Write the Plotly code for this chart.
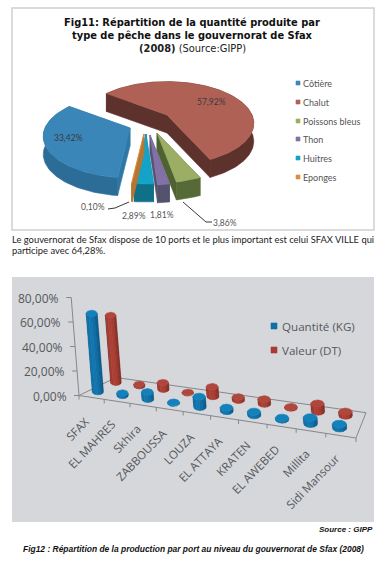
import math
import plotly.graph_objects as go

# ---------- data ----------
pie_labels = ["Côtière", "Chalut", "Poissons bleus", "Thon", "Huitres", "Eponges"]
pie_values = [33.42, 57.92, 3.86, 1.81, 2.89, 0.10]
pie_texts = ["33,42%", "57,92%", "3,86%", "1,81%", "2,89%", "0,10%"]
pie_top = ["#3a86b8", "#b06156", "#9bae64", "#8270a6", "#14a3c8", "#d68f47"]
pie_rim = ["#2c6d98", "#5e322c", "#566a38", "#55526e", "#0f7088", "#b8752f"]
pie_cut = ["#2f77a6", "#5e322c", "#4f6233", "#55526e", "#0f7088", "#b8752f"]

ports = ["SFAX", "EL MAHRES", "Skhira", "ZABBOUSSA", "LOUZA", "EL ATTAYA",
         "KRATEN", "EL AWEBED", "Millita", "Sidi Mansour"]
quantite = [64.0, 2.0, 6.0, 0.6, 8.5, 2.8, 2.8, 1.2, 5.0, 3.2]
valeur = [58.0, 1.6, 6.0, 0.6, 8.5, 2.8, 4.2, 0.8, 7.0, 3.4]
y_ticks = [0, 20, 40, 60, 80]
y_tick_text = ["0,00%", "20,00%", "40,00%", "60,00%", "80,00%"]
series_names = ["Quantité (KG)", "Valeur (DT)"]

traces = []
annots = []


def poly(xs, ys, color, line=None):
    traces.append(go.Scatter(
        x=xs, y=ys, mode="lines", fill="toself", fillcolor=color,
        line=dict(color=line or color, width=0.6), hoverinfo="skip", showlegend=False))


def path(xs, ys, color="#333333", width=1):
    traces.append(go.Scatter(x=xs, y=ys, mode="lines", line=dict(color=color, width=width),
                             hoverinfo="skip", showlegend=False))


def text(x, y, s, size=9, color="#444444", font="Lato", anchor="center", yanchor="middle", angle=0):
    annots.append(dict(x=x, y=y, xref="x", yref="y", text=s, showarrow=False, xanchor=anchor,
                       yanchor=yanchor, textangle=angle,
                       font=dict(size=size, color=color, family=font),
                       borderpad=0, borderwidth=0))


# ---------- pie ----------
A, B, K, DEPTH = 85.0, 40.0, 0.2, 18.0
apex = {0: (130, 128), 1: (167, 115), 2: (157, 133), 3: (150, 135), 4: (146, 134), 5: (144, 134)}


def proj(t):
    X, Y = math.cos(t), math.sin(t)
    s = 1 / (1 + K * Y)
    return A * X * s, -B * Y * s


total = sum(pie_values)
start = math.radians(263.3)
order = [1, 0, 2, 3, 4, 5]
wedges = {}
ang = start
for i, v in enumerate(pie_values):
    span = v / total * 2 * math.pi
    wedges[i] = (ang, ang - span)
    ang -= span

for i in order:
    a0, a1 = wedges[i]
    cx, cy = apex[i]
    n = max(2, int(abs(a1 - a0) * 40))
    arc = [proj(a0 + (a1 - a0) * j / n) for j in range(n + 1)]
    arc = [(cx + x, cy + y) for x, y in arc]
    # cut faces
    for p in (arc[0], arc[-1]):
        poly([cx, p[0], p[0], cx, cx], [cy, p[1], p[1] + DEPTH, cy + DEPTH, cy], pie_cut[i])
    # rim
    xs = [p[0] for p in arc] + [p[0] for p in reversed(arc)] + [arc[0][0]]
    ys = [p[1] for p in arc] + [p[1] + DEPTH for p in reversed(arc)] + [arc[0][1]]
    poly(xs, ys, pie_rim[i])
    # top
    poly([cx] + [p[0] for p in arc] + [cx], [cy] + [p[1] for p in arc] + [cy], pie_top[i])

text(68, 138, pie_texts[0], 8.5, "#3a3a3a")
text(211, 102, pie_texts[1], 8.5, "#3a3a3a")
text(93, 207, pie_texts[5], 8.5, "#555555")
text(134, 216, pie_texts[4], 8.5, "#555555")
text(162, 215, pie_texts[3], 8.5, "#555555")
text(225, 223, pie_texts[2], 8.5, "#555555")
path([108, 115, 129], [209, 208, 202], "#222222", 0.9)
path([183, 206, 212], [202, 222, 222], "#222222", 0.9)

leg_y = [83, 102, 121, 139, 158, 177]
for i, name in enumerate(pie_labels):
    yy = leg_y[i]
    poly([296, 300, 300, 296, 296], [yy - 2, yy - 2, yy + 2, yy + 2, yy - 2], pie_top[i])
    text(303, yy, name, 9, "#555555", anchor="left")

T = "DejaVu Sans"
text(192, 22, "<b>Fig11: Répartition de la quantité produite par</b>", 9.9, "#111111", T)
text(192, 35, "<b>type de pêche dans le gouvernorat de Sfax</b>", 9.9, "#111111", T)
text(192, 48, "<b>(2008)</b> (Source:GIPP)", 9.9, "#222222", T)

B1 = "Lato"
text(12, 239.5, "Le gouvernorat de Sfax dispose de 10 ports et le plus important est celui SFAX VILLE qui",
     9.4, "#1c1c1c", B1, anchor="left")
text(12, 250, "participe avec 64,28%.", 9.4, "#1c1c1c", B1, anchor="left")

# ---------- bar chart on a skewed floor ----------
FL, FR = (79.0, 395.5), (356.0, 438.0)      # front edge of floor
BL, BR = (116.0, 377.5), (366.0, 412.7)     # back edge of floor
UNIT = 1.225                                 # px per percentage point at the front
TILT = 0.0795                                # sideways lean per px of height
WARP = 0.10                                  # perspective along the category axis


def lerp(a, b, t):
    return a[0] + (b[0] - a[0]) * t, a[1] + (b[1] - a[1]) * t


def warp(t):
    return t - WARP * t * (1 - t)


def floor(i, depth):
    t = warp((i + 0.35) / len(ports))
    return lerp(lerp(FL, FR, t), lerp(BL, BR, t), depth)


path([FL[0], FR[0], BR[0], BL[0], FL[0]], [FL[1], FR[1], BR[1], BL[1], FL[1]], "#85878a", 1)
ax_top = (FL[0] - 80 * UNIT * TILT, FL[1] - 80 * UNIT)
path([FL[0], ax_top[0]], [FL[1], ax_top[1]], "#85878a", 1)
for v, lab in zip(y_ticks, y_tick_text):
    tx, ty = FL[0] - v * UNIT * TILT, FL[1] - v * UNIT
    path([tx, tx - 5], [ty, ty], "#85878a", 1)
    text(tx - 12, ty + 0.5, lab, 12, "#55585c", "Open Sans", anchor="right")
for j in range(len(ports) + 1):
    px, py = lerp(FL, FR, warp(j / len(ports)))
    path([px, px], [py, py + 4], "#85878a", 1)


def cylinders(vals, depth, scale, rx0, ry0, body, cap):
    n = len(body)
    slices = [([], []) for _ in range(n)]
    sizes = [0.88 + 0.24 * i / (len(vals) - 1) for i in range(len(vals))]
    for i, v in enumerate(vals):
        cx, cy = floor(i, depth)
        h = v * UNIT * scale
        rx, ry = rx0 * sizes[i], ry0 * sizes[i]
        for k in range(n):
            t0 = math.pi + math.pi * k / n
            t1 = math.pi + math.pi * (k + 1) / n
            x0, x1 = cx + rx * math.cos(t0), cx + rx * math.cos(t1)
            y0, y1 = cy - ry * math.sin(t0), cy - ry * math.sin(t1)
            xs, ys = slices[k]
            xs += [x0, x1, x1 - h * TILT, x0 - h * TILT, x0, None]
            ys += [y0, y1, y1 - h, y0 - h, y0, None]
    for k in range(n):
        poly(slices[k][0], slices[k][1], body[k])
    xs, ys = [], []
    for i, v in enumerate(vals):
        cx, cy = floor(i, depth)
        h = v * UNIT * scale
        rx, ry = rx0 * sizes[i], ry0 * sizes[i]
        for j in range(33):
            t = 2 * math.pi * j / 32
            xs.append(cx - h * TILT + rx * math.cos(t))
            ys.append(cy - h - ry * math.sin(t))
        xs.append(None)
        ys.append(None)
    poly(xs, ys, cap)


cylinders(valeur, 0.78, 0.95, 6.0, 3.2,
          ["#7f2c25", "#a03a30", "#ad4036", "#a83c32", "#973429", "#7f2a22"], "#b0473c")
cylinders(quantite, 0.28, 1.0, 6.3, 3.5,
          ["#0b5f93", "#0f70a8", "#1277b0", "#0f70a8", "#0c6397", "#0a5585"], "#1381bc")

for i, name in enumerate(ports):
    px, py = lerp((92.5, 413.5), (342.5, 451.5), warp(i / (len(ports) - 1)))
    text(px, py, name, 11.5, "#55585c", "Open Sans", anchor="right", yanchor="top", angle=-46)

for yy, name, col in zip([326, 350], series_names, ["#0f70a8", "#a83c32"]):
    poly([271, 277, 277, 271, 271], [yy - 3, yy - 3, yy + 3, yy + 3, yy - 3], col)
    text(282, yy, name, 11.6, "#55585c", "Open Sans", anchor="left")

text(373, 529, "<b><i>Source : GIPP</i></b>", 8.0, "#111111", "Liberation Sans", anchor="right")
text(22.5, 549, "<b><i>Fig12 : Répartition de la production par port au niveau du gouvernorat de Sfax (2008)</i></b>",
     8.45, "#111111", "Liberation Sans", anchor="left")

# ---------- figure ----------
shapes = [
    dict(type="rect", xref="x", yref="y", x0=12, x1=374, y0=8, y1=230, layer="below",
         line=dict(color="#cfcfcf", width=1.5), fillcolor="#ffffff"),
    dict(type="rect", xref="x", yref="y", x0=12, x1=374, y0=277, y1=522, layer="below",
         line=dict(width=0), fillcolor="#d5d7da"),
]
fig = go.Figure(traces)
fig.update_layout(
    width=385, height=566, autosize=False, margin=dict(l=0, r=0, t=0, b=0),
    paper_bgcolor="#ffffff", plot_bgcolor="#ffffff", showlegend=False,
    xaxis=dict(range=[0, 385], visible=False, fixedrange=True),
    yaxis=dict(range=[566, 0], visible=False, fixedrange=True),
    shapes=shapes, annotations=annots,
)
fig.write_html("out.html", config=dict(displayModeBar=False),
               post_script="document.body.style.margin='0';document.body.style.overflow='hidden';")
